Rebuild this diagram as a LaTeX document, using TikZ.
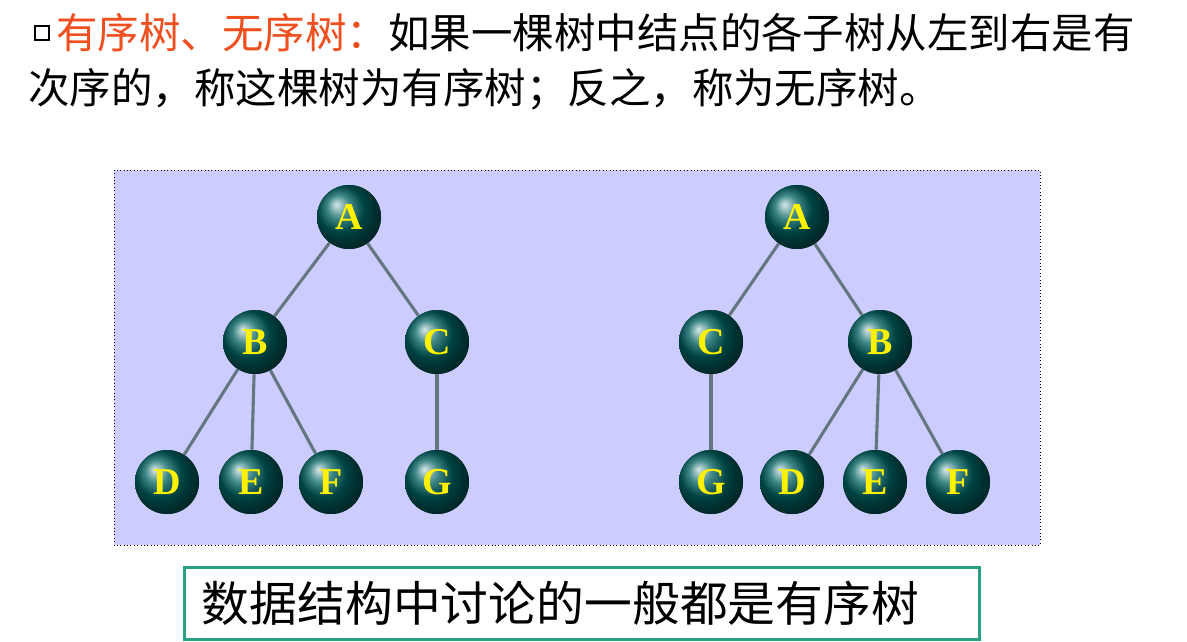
\documentclass[tikz,border=0pt]{standalone}
\usepackage{fontspec}
\setmainfont{Liberation Serif}
\newfontfamily\cjk{Noto Sans CJK SC}
\begin{document}
\begin{tikzpicture}[x=0.025cm,y=-0.025cm,
  ball/.style={circle,minimum size=64*0.025cm,inner sep=0pt,ball color=teal!75!black,text=yellow,font=\bfseries\fontsize{27}{27}\selectfont},
  edge/.style={draw=cyan!30!black!80,line width=2.2pt}]
\useasboundingbox (0,0) rectangle (1187,642);
\fill[white] (0,0) rectangle (1187,642);
\draw[line width=1.8pt] (35,26) rectangle (49,40); \node[coordinate] (sq) at (42,33) {};
\node[anchor=west,inner sep=0pt,font=\cjk\fontsize{29.5}{29.5}\selectfont] (t1) at (56,33) {\textcolor[HTML]{F05020}{有序树、无序树：}如果一棵树中结点的各子树从左到右是有};
\node[anchor=west,inner sep=0pt,font=\cjk\fontsize{29.5}{29.5}\selectfont] (t2) at (28,89) {次序的，称这棵树为有序树；反之，称为无序树。};
\draw[dotted,fill={rgb,255:red,204;green,204;blue,255}] (114,170) rectangle (1040,545);
\foreach \n/\l/\x/\y in {lA/A/349/217,lB/B/255/342,lC/C/437/342,lD/D/167/482,lE/E/251/482,lF/F/331/482,lG/G/437/482,
  rA/A/797/217,rC/C/711/342,rB/B/880/342,rG/G/711/482,rD/D/792/482,rE/E/875/482,rF/F/958/482}
  \node[ball] (\n) at (\x,\y) {\l};
\begin{scope}[on background layer/.style={}]
\end{scope}
\foreach \a/\b in {lA/lB,lA/lC,lB/lD,lB/lE,lB/lF,lC/lG,rA/rC,rA/rB,rC/rG,rB/rD,rB/rE,rB/rF}
  \path[edge] (\a) -- (\b);
\foreach \n/\l/\x/\y in {lA/A/349/217,lB/B/255/342,lC/C/437/342,lD/D/167/482,lE/E/251/482,lF/F/331/482,lG/G/437/482,
  rA/A/797/217,rC/C/711/342,rB/B/880/342,rG/G/711/482,rD/D/792/482,rE/E/875/482,rF/F/958/482}
  \node[ball] at (\x,\y) {\l};
\node[draw={rgb,255:red,40;green,160;blue,130},line width=2pt,minimum width=795*0.025cm,minimum height=72*0.025cm,font=\cjk\fontsize{34}{34}\selectfont,anchor=north west,text width=760*0.025cm] (bt) at (183,566) {数据结构中讨论的一般都是有序树};
\end{tikzpicture}
\end{document}
